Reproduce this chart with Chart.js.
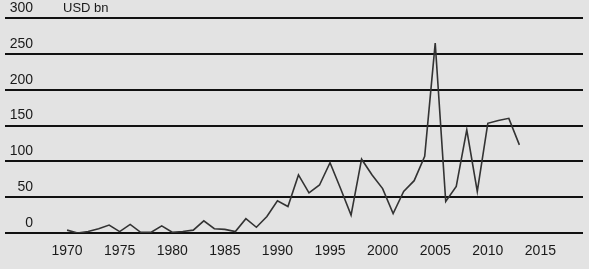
<!DOCTYPE html>
<html>
<head>
<meta charset="utf-8">
<script src="https://cdn.jsdelivr.net/npm/chart.js@4"></script>
<style>
  html, body { margin: 0; padding: 0; background: #e3e3e3; }
  #wrap { width: 589px; height: 269px; position: relative; }
</style>
</head>
<body>
<div id="wrap"><canvas id="c" width="589" height="269"></canvas></div>
<script>
const years = [1970,1971,1972,1973,1974,1975,1976,1977,1978,1979,1980,1981,1982,1983,1984,1985,1986,1987,1988,1989,1990,1991,1992,1993,1994,1995,1996,1997,1998,1999,2000,2001,2002,2003,2004,2005,2006,2007,2008,2009,2010,2011,2012,2013];
const values = [4,0,2,6,11,2,12,1,1,10,1,2,4,17,6,5,2,20,8,23,45,37,81,56,67,98,62,25,103,81,62,27,58,73,107,265,44,65,144,58,153,157,160,123];
const xTicks = [1970,1975,1980,1985,1990,1995,2000,2005,2010,2015];
const yTicks = [0,50,100,150,200,250,300];
const unitLabel = 'USD bn';

const FONT = '"Liberation Sans", Arial, sans-serif';

const labelPlugin = {
  id: 'axisLabels',
  afterDraw(chart) {
    const ctx = chart.ctx;
    const ys = chart.scales.y;
    const xs = chart.scales.x;
    ctx.save();
    ctx.fillStyle = '#1a1a1a';
    ctx.font = '14px ' + FONT;
    ctx.textAlign = 'right';
    ctx.textBaseline = 'middle';
    yTicks.forEach(v => {
      ctx.fillText(String(v), 33, ys.getPixelForValue(v) - 10);
    });
    ctx.textAlign = 'center';
    const yb = ys.getPixelForValue(0) + 18;
    xTicks.forEach(v => {
      ctx.fillText(String(v), xs.getPixelForValue(v), yb);
    });
    ctx.textAlign = 'left';
    ctx.font = '13px ' + FONT;
    ctx.fillText(unitLabel, 63, ys.getPixelForValue(300) - 10);
    ctx.restore();
  }
};

new Chart(document.getElementById('c'), {
  type: 'line',
  data: {
    datasets: [{
      data: years.map((y, i) => ({x: y, y: values[i]})),
      borderColor: '#333',
      borderWidth: 1.6,
      pointRadius: 0,
      tension: 0,
      fill: false
    }]
  },
  options: {
    responsive: false,
    animation: false,
    devicePixelRatio: 1,
    layout: { padding: { left: 5, right: 6, top: 18, bottom: 36 } },
    plugins: { legend: { display: false }, tooltip: { enabled: false } },
    scales: {
      x: {
        type: 'linear',
        min: 1964.1,
        max: 2019.05,
        afterBuildTicks(scale) { scale.ticks = xTicks.map(v => ({value: v})); },
        grid: { display: false, drawTicks: false },
        border: { display: false },
        ticks: { display: false }
      },
      y: {
        min: 0,
        max: 300,
        afterBuildTicks(scale) { scale.ticks = yTicks.map(v => ({value: v})); },
        grid: { color: '#111', lineWidth: 2, drawTicks: false },
        border: { display: false },
        ticks: { display: false }
      }
    }
  },
  plugins: [labelPlugin]
});
</script>
</body>
</html>
